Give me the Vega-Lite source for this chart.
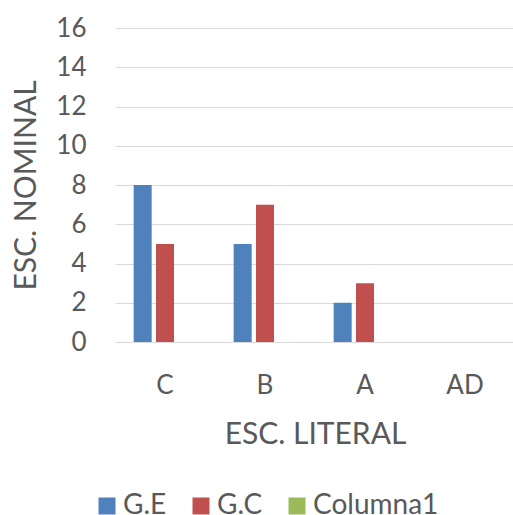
{
  "$schema": "https://vega.github.io/schema/vega-lite/v6.json",
  "autosize": {"type": "none"},
  "padding": {"left": 115, "top": 28, "right": 0, "bottom": 173},
  "width": 400,
  "height": 314,
  "background": "white",
  "config": {
    "view": {"stroke": null},
    "font": "Lato",
    "axis": {"labelFont": "Lato", "titleFont": "Lato", "labelColor": "#595959", "titleColor": "#595959", "titleFontWeight": "normal"},
    "legend": {"labelFont": "Lato", "labelColor": "#595959"}
  },
  "data": {
    "values": [
      {"cat": "C", "series": "G.E", "value": 8},
      {"cat": "C", "series": "G.C", "value": 5},
      {"cat": "B", "series": "G.E", "value": 5},
      {"cat": "B", "series": "G.C", "value": 7},
      {"cat": "A", "series": "G.E", "value": 2},
      {"cat": "A", "series": "G.C", "value": 3}
    ]
  },
  "mark": {"type": "bar"},
  "encoding": {
    "x": {
      "field": "cat", "type": "nominal",
      "scale": {"domain": ["C", "B", "A", "AD"], "paddingInner": 0.373, "paddingOuter": 0.1865},
      "axis": {
        "title": "ESC. LITERAL", "titleFontSize": 30, "titleBaseline": "alphabetic", "titleY": 101,
        "labelAngle": 0, "labelFontSize": 26, "labelBaseline": "alphabetic", "labelPadding": 51,
        "ticks": false, "tickSize": 0, "domain": false, "grid": false
      }
    },
    "xOffset": {
      "field": "series", "type": "nominal",
      "scale": {"domain": ["G.E", "G.C", "Columna1"], "paddingInner": 0.193, "paddingOuter": 0}
    },
    "y": {
      "field": "value", "type": "quantitative",
      "scale": {"domain": [0, 16], "nice": false},
      "axis": {
        "title": "ESC. NOMINAL", "titleFontSize": 30, "titleBaseline": "alphabetic", "titleX": -80, "titleAngle": -90,
        "values": [0, 2, 4, 6, 8, 10, 12, 14, 16],
        "labelFontSize": 26, "labelPadding": 29, "ticks": false, "tickSize": 0, "domain": false,
        "grid": true, "gridColor": "#d9d9d9", "gridWidth": 1
      }
    },
    "color": {
      "field": "series", "type": "nominal",
      "scale": {"domain": ["G.E", "G.C", "Columna1"], "range": ["#4F81BD", "#C0504D", "#9BBB59"]},
      "legend": {
        "title": null, "orient": "none", "direction": "horizontal", "legendX": -22, "legendY": 464,
        "symbolType": "square", "symbolSize": 289, "symbolStrokeWidth": 0, "symbolOpacity": 1,
        "labelFontSize": 28, "labelOffset": 2, "columnPadding": 20
      }
    }
  }
}
